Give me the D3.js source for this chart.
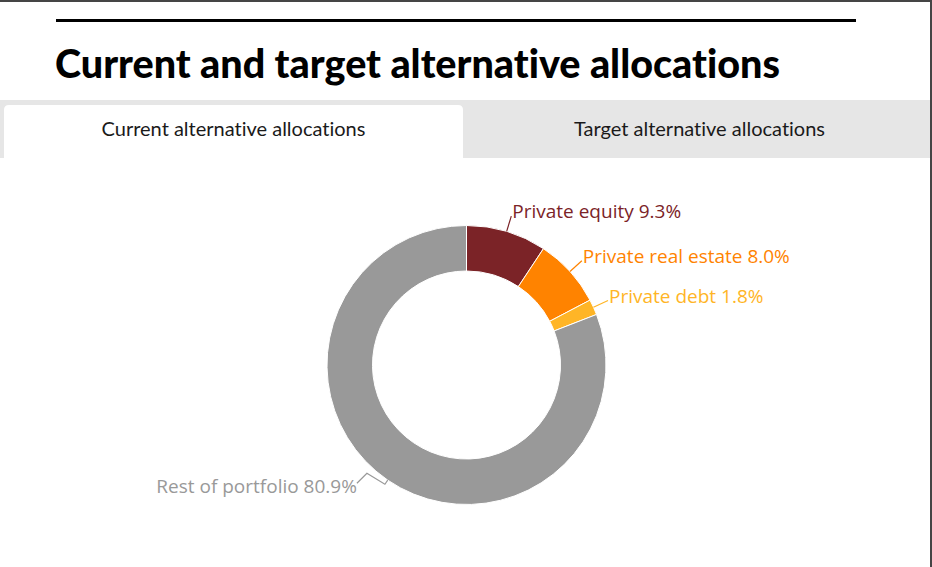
<!DOCTYPE html>
<html>
<head>
<meta charset="utf-8">
<script src="https://cdn.jsdelivr.net/npm/d3@7"></script>
<style>
  html, body { margin: 0; padding: 0; background: #fff; }
  svg { display: block; }
  text { font-variant-ligatures: none; }
</style>
</head>
<body>
<svg id="chart" width="932" height="567"></svg>
<script>
// chart data
const categories = ["Private equity", "Private real estate", "Private debt", "Rest of portfolio"];
const values = [9.3, 8.0, 1.8, 80.9];
const colors = ["#7b2327", "#ff8300", "#ffb526", "#999999"];
const tabLabels = ["Current alternative allocations", "Target alternative allocations"];
const title = "Current and target alternative allocations";

const svg = d3.select("#chart");
const W = 932, H = 567;

// window frame (dark edges seen in the screenshot)
svg.append("rect").attr("x", 0).attr("y", 0).attr("width", W).attr("height", 2).attr("fill", "#454545");
svg.append("rect").attr("x", 930).attr("y", 0).attr("width", 2).attr("height", H).attr("fill", "#454545");

// top rule + title
svg.append("rect").attr("x", 56).attr("y", 19).attr("width", 800).attr("height", 3).attr("fill", "#000");
svg.append("text")
    .attr("x", 55).attr("y", 78)
    .style("font-family", "Lato, sans-serif")
    .style("font-weight", 900)
    .style("font-size", "39.5px")
    .attr("fill", "#000")
    .text(title);

// tabs
svg.append("rect").attr("x", 0).attr("y", 100).attr("width", 930).attr("height", 58).attr("fill", "#e6e6e6");
svg.append("path")
    .attr("d", "M4,158 V110 Q4,105 9,105 H458 Q463,105 463,110 V158 Z")
    .attr("fill", "#fff");

const tabCenters = [233.5, 699.5];
svg.selectAll("text.tab")
    .data(tabLabels)
    .join("text")
    .attr("class", "tab")
    .attr("x", (d, i) => tabCenters[i])
    .attr("y", 136)
    .attr("text-anchor", "middle")
    .style("font-family", "Lato, sans-serif")
    .style("font-weight", 400)
    .style("font-size", "20px")
    .attr("fill", "#1a1a1a")
    .text(d => d);

// donut
const cx = 466.5, cy = 365;
const outerR = 139.5, innerR = 94;
const g = svg.append("g").attr("transform", `translate(${cx},${cy})`);

const pie = d3.pie().sort(null).value(d => d);
const arcs = pie(values);
const arc = d3.arc().innerRadius(innerR).outerRadius(outerR);

g.selectAll("path.slice")
    .data(arcs)
    .join("path")
    .attr("class", "slice")
    .attr("d", arc)
    .attr("fill", (d, i) => colors[i])
    .attr("stroke", "#fff")
    .attr("stroke-width", 1);

// leader lines and labels
const pt = (a, r) => [Math.sin(a) * r, -Math.cos(a) * r];
const mid = d => (d.startAngle + d.endAngle) / 2;

arcs.forEach((d, i) => {
    const a = mid(d);
    const p0 = pt(a, outerR);
    let pts, lx, ly, anchor;
    if (a < Math.PI) {
        const p1 = pt(a, outerR + 16);
        pts = [p0, p1];
        lx = p1[0] + 1; ly = p1[1] + 2; anchor = "start";
    } else {
        const p1 = pt(a, outerR + 5);
        const p2 = [p1[0] - 18, p1[1] - 11];
        const p3 = [p2[0] - 10, p2[1] + 10];
        pts = [p0, p1, p2, p3];
        lx = p3[0]; ly = p3[1] + 10; anchor = "end";
    }
    g.append("path")
        .attr("d", d3.line()(pts))
        .attr("fill", "none")
        .attr("stroke", colors[i])
        .attr("stroke-width", 1.2);
    g.append("text")
        .attr("x", lx).attr("y", ly)
        .attr("text-anchor", anchor)
        .style("font-family", "'Open Sans', sans-serif")
        .style("font-size", "19px")
        .attr("fill", colors[i])
        .text(`${categories[i]} ${d3.format(".1f")(values[i])}%`);
});
</script>
</body>
</html>
